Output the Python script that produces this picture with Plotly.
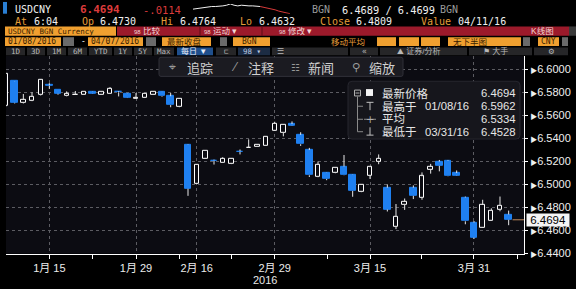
import plotly.graph_objects as go

W, H = 576, 289

# ---------------- data ----------------
dates = ["01/08", "01/11", "01/12", "01/13", "01/14", "01/15", "01/18", "01/19", "01/20", "01/21",
         "01/22", "01/25", "01/26", "01/27", "01/28", "01/29", "02/01", "02/02", "02/03", "02/04",
         "02/05", "02/15", "02/16", "02/17", "02/18", "02/19", "02/22", "02/23", "02/24", "02/25",
         "02/26", "02/29", "03/01", "03/02", "03/03", "03/04", "03/07", "03/08", "03/09", "03/10",
         "03/11", "03/14", "03/15", "03/16", "03/17", "03/18", "03/21", "03/22", "03/23", "03/24",
         "03/25", "03/28", "03/29", "03/30", "03/31", "04/01", "04/05", "04/06", "04/07"]
opens = [6.5685, 6.5898, 6.5713, 6.5727, 6.5776, 6.5863, 6.5821, 6.5768, 6.5776, 6.5781,
         6.5810, 6.5781, 6.5787, 6.5806, 6.5790, 6.5749, 6.5754, 6.5781, 6.5804, 6.5768,
         6.5674, 6.5347, 6.5007, 6.5228, 6.5210, 6.5191, 6.5180, 6.5288, 6.5317, 6.5328,
         6.5339, 6.5470, 6.5449, 6.5526, 6.5432, 6.5300, 6.5066, 6.5106, 6.5100, 6.5157,
         6.5087, 6.4936, 6.5078, 6.5200, 6.4973, 6.4632, 6.4823, 6.4973, 6.4888, 6.5129,
         6.5200, 6.5208, 6.5100, 6.4888, 6.4670, 6.4627, 6.4681, 6.4780, 6.4740]
highs = [6.5962, 6.5900, 6.5787, 6.5802, 6.5912, 6.5881, 6.5822, 6.5810, 6.5813, 6.5805,
         6.5812, 6.5804, 6.5847, 6.5813, 6.5792, 6.5796, 6.5792, 6.5806, 6.5806, 6.5796,
         6.5747, 6.5350, 6.5175, 6.5296, 6.5217, 6.5237, 6.5225, 6.5305, 6.5393, 6.5349,
         6.5415, 6.5546, 6.5523, 6.5549, 6.5455, 6.5319, 6.5200, 6.5108, 6.5145, 6.5257,
         6.5089, 6.5004, 6.5153, 6.5262, 6.5002, 6.4831, 6.4879, 6.4993, 6.5106, 6.5180,
         6.5214, 6.5214, 6.5123, 6.4896, 6.4683, 6.4868, 6.4794, 6.4896, 6.4774]
lows = [6.5680, 6.5705, 6.5705, 6.5725, 6.5772, 6.5832, 6.5781, 6.5765, 6.5776, 6.5780,
        6.5788, 6.5780, 6.5786, 6.5766, 6.5752, 6.5748, 6.5752, 6.5780, 6.5762, 6.5672,
        6.5672, 6.4902, 6.5005, 6.5226, 6.5174, 6.5190, 6.5178, 6.5262, 6.5316, 6.5327,
        6.5338, 6.5469, 6.5419, 6.5510, 6.5336, 6.5066, 6.5064, 6.5038, 6.5098, 6.5079,
        6.4894, 6.4934, 6.5049, 6.5177, 6.4766, 6.4613, 6.4780, 6.4874, 6.4868, 6.5095,
        6.5115, 6.5070, 6.5076, 6.4655, 6.4528, 6.4625, 6.4680, 6.4768, 6.4647]
closes = [6.5960, 6.5711, 6.5736, 6.5763, 6.5909, 6.5859, 6.5790, 6.5793, 6.5781, 6.5804,
          6.5790, 6.5802, 6.5832, 6.5802, 6.5754, 6.5753, 6.5790, 6.5804, 6.5768, 6.5691,
          6.5745, 6.4964, 6.5172, 6.5294, 6.5205, 6.5223, 6.5223, 6.5283, 6.5320, 6.5347,
          6.5413, 6.5532, 6.5521, 6.5512, 6.5351, 6.5081, 6.5172, 6.5049, 6.5143, 6.5081,
          6.4945, 6.5002, 6.5151, 6.5228, 6.4783, 6.4723, 6.4851, 6.4902, 6.5072, 6.5157,
          6.5163, 6.5072, 6.5078, 6.4681, 6.4539, 6.4823, 6.4774, 6.4817, 6.4694]

tick_positions = [5, 15, 22, 31, 42, 54]
tick_labels = ["1月 15", "1月 29", "2月 16", "2月 29", "3月 15", "3月 31"]
minor_positions = [10, 20, 26, 37.1, 48, 59]
y_ticks = [6.44, 6.46, 6.48, 6.50, 6.52, 6.54, 6.56, 6.58, 6.60]

legend_names = ["最新价格", "最高于", "平均", "最低于"]
legend_dates = ["", "01/08/16", "", "03/31/16"]
legend_values = ["6.4694", "6.5962", "6.5334", "6.4528"]

spark_white = [6.4752, 6.4756, 6.4760, 6.4760, 6.4764, 6.4768, 6.4768, 6.4768, 6.4772,
               6.4776, 6.4784, 6.4776, 6.4772, 6.4776, 6.4772, 6.4772, 6.4772, 6.4772, 6.4768]
spark_red = [6.4768, 6.4764, 6.4756, 6.4752, 6.4748, 6.4740, 6.4736, 6.4728, 6.4724]

# ---------------- colours ----------------
BLUE = "#1f80f0"
BG = "#0c0c12"
GRID = "#5c5c62"
ORANGE = "#e59d38"
RED_BAR = "#9c1a2b"
CJK = "Noto Sans CJK SC"
LCJK = "Liberation Sans, Noto Sans CJK SC"
SANS = "Liberation Sans, Noto Sans CJK SC"
MONO = "DejaVu Sans Mono, Noto Sans CJK SC"

n = len(closes)
idx = list(range(n))
down = [c < o for o, c in zip(opens, closes)]

# wicks (split so they never cross hollow bodies)
wx, wy = [], []
for i in idx:
    top = max(opens[i], closes[i])
    bot = min(opens[i], closes[i])
    if highs[i] > top:
        wx += [i, i, None]
        wy += [top, highs[i], None]
    if lows[i] < bot:
        wx += [i, i, None]
        wy += [bot, lows[i], None]

fig = go.Figure()
fig.add_trace(go.Bar(
    x=idx,
    base=[min(o, c) for o, c in zip(opens, closes)],
    y=[max(abs(c - o), 0.00005) for o, c in zip(opens, closes)],
    width=[0.78 if d else 0.5 for d in down],
    marker=dict(color=[BLUE if d else BG for d in down],
                line=dict(color=[BLUE if d else "#ffffff" for d in down], width=1)),
    hoverinfo="skip", showlegend=False))
fig.add_trace(go.Scatter(x=wx, y=wy, mode="lines", line=dict(color="#e8e8e8", width=1),
                         hoverinfo="skip", showlegend=False))
# last price guide line
fig.add_trace(go.Scatter(x=[n - 1 + 0.45, 59.9], y=[closes[-1], closes[-1]], mode="lines",
                         line=dict(color="#c08a5c", width=1), cliponaxis=False,
                         hoverinfo="skip", showlegend=False))
# header sparkline
fig.add_trace(go.Scatter(x=list(range(len(spark_white))), y=spark_white, mode="lines",
                         line=dict(color="#f0f0f0", width=1), xaxis="x2", yaxis="y2",
                         hoverinfo="skip", showlegend=False))
fig.add_trace(go.Scatter(x=list(range(len(spark_white) - 1, len(spark_white) - 1 + len(spark_red))),
                         y=spark_red, mode="lines", line=dict(color="#d83a3a", width=1),
                         xaxis="x2", yaxis="y2", hoverinfo="skip", showlegend=False))


def X(px):
    return px / W


def Y(py):
    return 1 - py / H


shapes = []
annos = []


def rect(x0, y0, x1, y1, fill, line=None, layer="below"):
    shapes.append(dict(type="rect", xref="paper", yref="paper", x0=X(x0), x1=X(x1),
                       y0=Y(y1), y1=Y(y0), fillcolor=fill, layer=layer,
                       line=dict(width=1 if line else 0, color=line or fill)))


def rrect(x0, y0, x1, y1, r, fill, line, layer="above"):
    p = (f"M {X(x0 + r)},{Y(y0)} L {X(x1 - r)},{Y(y0)} Q {X(x1)},{Y(y0)} {X(x1)},{Y(y0 + r)} "
         f"L {X(x1)},{Y(y1 - r)} Q {X(x1)},{Y(y1)} {X(x1 - r)},{Y(y1)} L {X(x0 + r)},{Y(y1)} "
         f"Q {X(x0)},{Y(y1)} {X(x0)},{Y(y1 - r)} L {X(x0)},{Y(y0 + r)} Q {X(x0)},{Y(y0)} {X(x0 + r)},{Y(y0)} Z")
    shapes.append(dict(type="path", xref="paper", yref="paper", path=p, fillcolor=fill,
                       line=dict(color=line, width=1), layer=layer))


def line(x0, y0, x1, y1, color, width=1, layer="above"):
    shapes.append(dict(type="line", xref="paper", yref="paper", x0=X(x0), x1=X(x1),
                       y0=Y(y0), y1=Y(y1), line=dict(color=color, width=width), layer=layer))


def text(x, y, s, color="#ffffff", size=10, family=MONO, anchor="left", bg=None, align="left"):
    a = dict(x=X(x), y=Y(y), xref="paper", yref="paper", text=s, showarrow=False,
             xanchor=anchor, yanchor="middle", borderpad=0, align=align,
             font=dict(color=color, size=size, family=family))
    if bg:
        a["bgcolor"] = bg
    annos.append(a)


# ---------- header ----------
R1, R2, R3, R4, R5 = 9.8, 22.2, 33.0, 43.3, 53.2
rect(0, 0, 576, 57, "#000000")
rect(3, 2, 7, 14, "#2a7fd4")
text(14, R1, "USDCNY", "#f2f2f2", 10)
text(79, R1, "<b>6.4694</b>", "#dc3b3b", 11)
text(142, R1, "-.0114", "#dc3b3b", 10.5)
text(311, R1, "BGN", "#9a9a9a", 10)
text(341, R1, "6.4689 / 6.4699", "#f0f0f0", 10.3)
text(439, R1, "BGN", "#9a9a9a", 10)

row2 = [(14, "At", ORANGE), (33, "6:04", "#f0f0f0"), (81, "Op", ORANGE), (99, "6.4730", "#f0f0f0"),
        (160, "Hi", ORANGE), (179, "6.4764", "#f0f0f0"), (239, "Lo", ORANGE), (258, "6.4632", "#f0f0f0"),
        (319, "Close", ORANGE), (355, "6.4809", "#f0f0f0"), (420, "Value", ORANGE),
        (457, "04/11/16", "#f0f0f0")]
for x, s, c in row2:
    text(x, R2, s, c, 10)

# row 3 : function bar
rect(5, 27, 116, 36.5, "#f0a030")
text(7, R3 - 0.8, "USDCNY BGN Currency", "#3a1e00", 7.5)
rect(117, 27, 569, 36.5, RED_BAR)
for xs in [200, 262]:
    line(xs, 27, xs, 36.5, "#5a0c16")
rect(569, 27, 576, 36.5, "#3a3a3a")
text(133, R3 - 1, "<span style='font-size:6px'>98</span> 比较", "#f2d6d6", 8.5, LCJK)
text(203, R3 - 1, "<span style='font-size:6px'>98</span> 运动 ▾", "#f2d6d6", 8.5, LCJK)
text(278, R3 - 1, "<span style='font-size:6px'>98</span> 修改 ▾", "#f2d6d6", 8.5, LCJK)
text(530, R3 - 1, "K线图", "#f2d6d6", 8.5, LCJK)

# row 4 : settings
rect(5, 38, 61, 47, "#f0a030")
text(7, R4 - 0.6, "01/08/2016", "#3a1e00", 8)
rect(63, 38, 74, 47, "#6a6a6a")
text(80, R4 - 0.6, "-", "#ffffff", 8)
rect(88, 38, 143, 47, "#f0a030")
text(90, R4 - 0.6, "04/07/2016", "#3a1e00", 8)
rect(146, 38, 156, 47, "#6a6a6a")
rect(162, 38, 211, 47, "#f0a030")
text(166, R4 - 0.6, "最新收盘", "#3a1e00", 8.5, LCJK)
rect(220, 38, 227, 47, "#6a6a6a")
rect(233, 38, 270, 47, "#f0a030")
text(241, R4 - 0.6, "BGN", "#3a1e00", 8)
text(330, R4 - 0.6, "移动平均", ORANGE, 8.5, LCJK)
for x0, x1 in [(377, 396), (399, 419), (421, 440)]:
    rect(x0, 38, x1, 47, "#f0a030")
rect(448, 38, 521, 47, "#f0a030")
text(452, R4 - 0.6, "无下半图", "#3a1e00", 8.5, LCJK)
rect(523, 38, 530, 47, "#6a6a6a")
rect(538, 38, 559, 47, "#f0a030")
text(540, R4 - 0.6, "CNY", "#3a1e00", 8)
rect(562, 38, 568, 47, "#6a6a6a")

# row 5 : buttons
for x0, x1, s in [(6, 25, "1D"), (27, 45, "3D"), (47, 66, "1M"), (68, 87, "6M"), (89, 112, "YTD"),
                  (114, 132, "1Y"), (134, 152, "5Y"), (154, 174, "Max")]:
    rect(x0, 48.5, x1, 56.5, "#262628")
    text((x0 + x1) / 2, R5 - 0.7, s, "#b8b8b8", 7.5, MONO, "center")
rect(177, 48.5, 213, 56.5, "#1f4f8c")
text(180, R5 - 0.7, "每日 ▼", "#e8eef8", 8, LCJK)
rect(216, 48.5, 236, 56.5, "#262628")
text(226, R5 - 0.7, "⊏", "#b8b8b8", 7.5, MONO, "center")
rect(238, 48.5, 270, 56.5, "#1c2c44")
text(242, R5 - 0.7, "98 ▾", "#b8c8e0", 7.5, MONO)
rect(272, 48.5, 348, 56.5, "#262628")
text(276, R5 - 0.7, "☰", "#b8b8b8", 7.5, MONO)
rect(350, 48.5, 378, 56.5, "#262628")
text(364, R5 - 0.7, "«", "#b8b8b8", 8, MONO, "center")
rect(380, 48.5, 467, 56.5, "#262628")
text(396, R5 - 0.7, "⛰ 证券/分析", "#b8b8b8", 8, LCJK)
rect(469, 48.5, 532, 56.5, "#262628")
text(482, R5 - 0.7, "⚑ 大手", "#b8b8b8", 8, LCJK)
rect(534, 48.5, 568, 56.5, "#262628")
text(551, R5 - 0.7, "⚙", "#b8b8b8", 7.5, "DejaVu Sans", "center")

# ---------- chart overlays ----------
rect(0, 57, 6, 289, "#000000")
rrect(159, 58.5, 403, 78, 2, "#1b1b21", "#303038")
text(172, 68.5, "⌖", "#9a9a9a", 12, "DejaVu Sans", "center")
text(186, 68.5, "追踪", "#d0d0d0", 13, CJK)
text(235, 68.5, "⁄", "#9a9a9a", 12, "DejaVu Sans", "center")
text(247, 68.5, "注释", "#d0d0d0", 13, CJK)
text(295, 68.5, "☷", "#9a9a9a", 10, "DejaVu Sans", "center")
text(307, 68.5, "新闻", "#d0d0d0", 13, CJK)
text(356, 68.5, "⚲", "#9a9a9a", 11, "DejaVu Sans", "center")
text(368, 68.5, "缩放", "#d0d0d0", 13, CJK)

# legend box
rrect(348, 83, 520, 142, 4, "#16161c", "#26262e")
rect(354.5, 92, 360.5, 98, "#16161c", "#b0b0b0", layer="above")
line(355.5, 95, 359.5, 95, "#b0b0b0")
rect(366, 91, 373, 98, "#f4f4f4", layer="above")
line(357.5, 98.5, 357.5, 134.5, "#8a8a8a")
for yy in [108.5, 121.8, 134.5]:
    line(357.5, yy, 363, yy, "#8a8a8a")
line(364, 121.8, 376, 121.8, "#8a8a8a")
text(370, 121.8, "+", "#b0b0b0", 10, "DejaVu Sans", "center")
# T / inverted-T markers
line(366.5, 104.5, 373.5, 104.5, "#c0c0c0")
line(370, 104.5, 370, 112.5, "#c0c0c0")
line(366.5, 138, 373.5, 138, "#c0c0c0")
line(370, 130, 370, 138, "#c0c0c0")
row_y = [95.2, 108.6, 122.0, 135.2]
for yy, nm, dt, val in zip(row_y, legend_names, legend_dates, legend_values):
    text(381, yy, nm, "#e6e6e6", 11.5, LCJK)
    if dt:
        text(424, yy, dt, "#e6e6e6", 11.3, "Liberation Sans")
    text(480, yy, val, "#e6e6e6", 11.3, "Liberation Sans")

# last price label
text(548, 224.5, " " + f"{closes[-1]:.4f}" + " ", "#000000", 11.5, SANS, "center", bg="#f4f4f4")
text(265, 286, "2016", "#e8e8e8", 11, "Liberation Sans", "center")

fig.update_layout(
    width=W, height=H, margin=dict(l=0, r=0, t=0, b=0),
    paper_bgcolor="#000000", plot_bgcolor=BG,
    bargap=0, showlegend=False,
    xaxis=dict(domain=[X(6), X(524)], range=[0, 59.77], anchor="y",
               tickmode="array", tickvals=tick_positions, ticktext=tick_labels,
               ticks="outside", ticklen=4, tickcolor="#ffffff",
               showgrid=True, gridcolor=GRID, griddash="3px,3px", gridwidth=1,
               showline=True, linecolor="#ffffff", linewidth=1, zeroline=False,
               tickfont=dict(color="#ececec", size=11, family=SANS),
               minor=dict(tickmode="array", tickvals=minor_positions, ticks="outside",
                          ticklen=4, tickcolor="#ffffff", showgrid=False)),
    yaxis=dict(domain=[Y(259), Y(57)], range=[6.44, 6.6119], anchor="x", side="right",
               tickmode="array", tickvals=y_ticks,
               ticktext=[f"<span style='font-size:7px'>▶</span>{v:.4f}" for v in y_ticks],
               ticks="outside", ticklen=3, tickcolor="#ffffff",
               showgrid=True, gridcolor=GRID, griddash="3px,3px", gridwidth=1,
               showline=True, linecolor="#ffffff", linewidth=1, zeroline=False,
               tickfont=dict(color="#f0f0f0", size=11, family=SANS)),
    xaxis2=dict(domain=[X(193), X(290)], anchor="y2", visible=False,
                range=[0, len(spark_white) + len(spark_red) - 2]),
    yaxis2=dict(domain=[Y(14), Y(4)], anchor="x2", visible=False,
                range=[min(spark_red), max(spark_white)]),
    shapes=shapes, annotations=annos,
)

fig.write_html("out.html")
